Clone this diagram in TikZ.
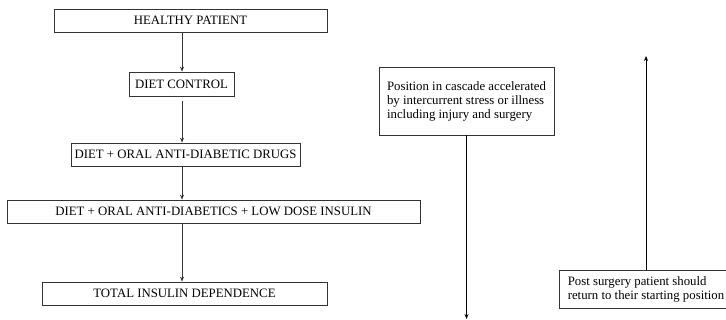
\documentclass[tikz,border=0pt]{standalone}
\usepackage{fontspec}
\setmainfont{Liberation Serif}
\usetikzlibrary{arrows.meta}

\begin{document}
\begin{tikzpicture}[>={Stealth[length=5pt,width=4pt]}, x=1pt, y=-1pt,
  font=\fontsize{12.8}{14}\selectfont,
  box/.style={draw=black!80, line width=0.8pt, minimum height=23pt, inner xsep=2pt, inner ysep=0pt},
  note/.style={draw=black!80, line width=0.8pt, align=left, inner xsep=8pt}]
  \useasboundingbox (0,0) rectangle (726,320);
  % Treatment cascade
  \node[box, minimum width=273pt] (hp) at (190.5,20.5) {HEALTHY PATIENT};
  \node[box, minimum width=105pt, minimum height=24pt] (dc) at (181.5,84) {DIET CONTROL};
  \node[box, minimum width=229pt] (od) at (185.5,154.5) {DIET + ORAL ANTI-DIABETIC DRUGS};
  \node[box, minimum width=413pt] (li) at (213.5,211.5) {DIET + ORAL ANTI-DIABETICS + LOW DOSE INSULIN};
  \node[box, minimum width=285pt] (ti) at (184.5,293.5) {TOTAL INSULIN DEPENDENCE};
  \coordinate (col) at (182,0);
  \draw[->, black!80, line width=0.8pt] (hp.south -| col) -- (dc.north -| col);
  \draw[->, black!80, line width=0.8pt, shorten <=5pt] (dc.south -| col) -- (od.north -| col);
  \draw[->, black!80, line width=0.8pt] (od.south -| col) -- (li.north -| col);
  \draw[->, black!80, line width=0.8pt] (li.south -| col) -- (ti.north -| col);
  % Stress and surgery
  \node[note, minimum width=175pt, minimum height=68pt] (acc) at (466.5,101)
    {Position in cascade accelerated\\by intercurrent stress or illness\\including injury and surgery};
  \coordinate (low) at (466.5,319);
  \draw[->, line width=0.8pt] (acc) -- (low);
  \node[note, inner xsep=4pt, minimum width=174pt, minimum height=38pt] (post) at (646,289)
    {Post surgery patient should\\return to their starting position};
  \coordinate (high) at (646,56);
  \draw[->, line width=0.8pt] (post) -- (high);
\end{tikzpicture}
\end{document}
